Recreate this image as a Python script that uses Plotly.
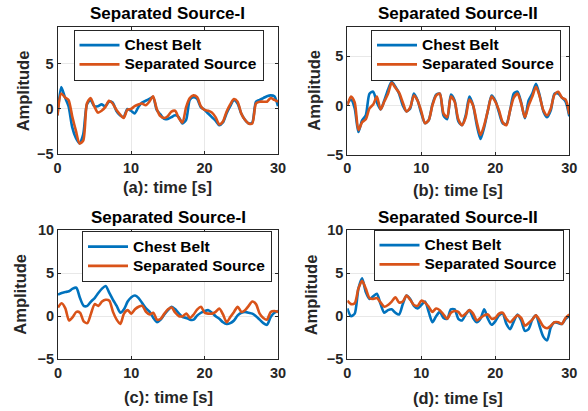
import plotly.graph_objects as go

# ---------------- data ----------------
time_s = [0.0, 0.5, 1.0, 1.5, 2.0, 2.5, 3.0, 3.5, 4.0, 4.5, 5.0, 5.5, 6.0, 6.5, 7.0, 7.5,
          8.0, 8.5, 9.0, 9.5, 10.0, 10.5, 11.0, 11.5, 12.0, 12.5, 13.0, 13.5, 14.0, 14.5,
          15.0, 15.5, 16.0, 16.5, 17.0, 17.5, 18.0, 18.5, 19.0, 19.5, 20.0, 20.5, 21.0,
          21.5, 22.0, 22.5, 23.0, 23.5, 24.0, 24.5, 25.0, 25.5, 26.0, 26.5, 27.0, 27.5,
          28.0, 28.5, 29.0, 29.5, 30.0]

a_belt = [-0.7, 2.4, 1.3, 0.3, -2.0, -3.2, -3.8, -2.8, 0.5, 1.0, 0.3, 0.3, 0.5, 0.3, 0.8, 0.7,
          -0.2, -0.7, -0.9, 0.0, -0.2, -0.5, 0.2, 0.7, 0.9, 1.1, 1.3, -0.1, -0.6, -1.1,
          -1.1, -0.9, -0.7, -0.9, -1.6, -1.2, 1.0, 1.3, 1.1, 0.2, -0.1, -0.5, -0.9,
          -1.3, -1.8, -1.5, -0.5, 0.3, 1.0, 0.6, -0.5, -1.2, -1.6, -1.5, 0.8, 1.0,
          1.2, 1.4, 1.5, 1.4, 0.3]
a_sep = [-0.7, 1.7, 1.3, 1.0, -0.8, -2.4, -3.8, -3.5, 0.6, 1.2, 0.3, -0.4, -0.2, 0.2, 0.9, 0.6,
         -0.1, -0.6, -1.0, -0.1, 0.0, 0.3, 0.5, 0.6, 0.4, 0.8, 1.4, 0.0, -0.8, -1.0,
         -0.8, -0.3, -0.2, -1.0, -1.5, 0.2, 1.2, 1.5, 1.3, 0.3, -0.1, -0.2, -0.4,
         -0.9, -1.7, -1.4, -0.3, 0.5, 1.1, 0.8, -0.5, -1.2, -1.6, -1.6, 0.6, 0.8,
         0.8, 0.8, 1.2, 1.0, 0.8]

b_belt = [0.2, 0.6, -0.3, -2.7, -1.5, -1.0, 1.2, 1.4, 0.3, -0.4, 0.5, 1.6, 2.4, 1.9, 1.2, 0.0,
          -0.6, -0.3, 1.2, 0.5, -0.8, -1.8, -1.5, 0.1, 1.1, 1.2, -1.0, -1.4, 1.1, 0.5,
          -1.6, -2.0, -1.0, 0.9, 0.0, -2.0, -3.4, -2.2, -0.5, 1.0, 0.5, -0.7, -1.8,
          -1.9, -0.5, 1.2, 1.4, 0.3, -1.3, 0.5, 1.2, 2.2, 1.0, -0.6, -1.2, -0.5,
          1.2, 1.2, 0.8, 0.4, -1.1]
b_sep = [0.0, 0.9, 0.3, -2.5, -1.7, -1.4, -0.3, 0.1, 0.9, -0.4, 0.4, 1.2, 2.3, 1.8, 1.3, 0.3,
         -0.6, -0.2, 1.0, 0.5, -0.6, -1.8, -1.5, 0.0, 1.0, 1.2, -0.8, -1.2, 0.9, 0.4,
         -1.4, -2.0, -1.2, 0.6, 0.0, -1.7, -3.0, -2.0, -0.5, 0.9, 0.4, -0.5, -1.7,
         -2.0, -0.5, 0.8, 1.2, 0.2, -1.2, 0.0, 0.9, 1.9, 0.9, -0.5, -1.0, -0.3,
         1.1, 1.4, 0.8, 0.6, -0.9]

c_belt = [2.5, 2.7, 2.8, 2.9, 3.2, 3.3, 2.1, 1.2, 1.2, 1.7, 2.1, 2.7, 3.2, 3.5, 2.7, 1.9,
          1.2, 0.4, 0.8, 1.7, 2.2, 2.4, 2.1, 1.5, 0.9, 0.5, -0.2, -0.7, -0.4, 0.2,
          0.7, 1.1, 0.8, 0.3, -0.1, -0.2, -0.4, -0.4, 0.1, 0.4, 0.6, 0.7, 0.4,
          0.0, -0.3, -0.7, -0.9, -0.8, -0.5, 0.1, 0.4, 0.5, 0.4, 0.3, 0.0, -0.4,
          -0.8, -1.0, -0.1, 0.4, 0.6]
c_sep = [1.0, 1.5, 0.9, -0.5, -0.1, 0.5, 0.4, -0.6, -0.8, 0.3, 1.4, 1.2, 1.7, 1.9, 1.8, 0.5,
         -0.4, -0.9, 0.3, 0.7, 0.3, 0.8, 1.1, 1.2, 0.5, 0.2, 0.4, -0.4, -0.3, 0.3,
         0.8, 1.0, 0.4, 0.0, 0.0, 0.3, -0.2, 0.2, 0.8, 1.1, 0.4, 0.3, 0.3,
         0.5, 0.9, 0.2, -0.7, -0.1, 0.5, 1.1, 0.5, 0.7, 1.2, 1.7, 1.4, 0.3,
         -0.2, -0.4, 0.5, 0.6, 0.5]

d_belt = [0.9, 0.0, 0.3, 3.2, 4.4, 2.8, 2.0, 2.3, 2.6, 1.4, 0.4, 0.7, 0.8, 0.4, 0.2, 1.4,
          2.4, 2.0, 1.2, 0.9, 1.3, 1.7, 0.5, -0.7, 0.0, 0.5, -0.2, -0.3, 0.8, 0.8,
          -0.3, -0.5, 0.2, 0.7, -0.2, -0.7, -0.3, 0.8, -0.3, -1.0, -0.6, 0.1, 0.3,
          -0.9, -1.5, -0.6, 0.2, -0.5, -1.7, -1.5, -0.4, 0.1, -1.2, -2.4, -2.8, -1.3,
          -0.7, -0.8, -0.9, -0.3, 0.0]
d_sep = [1.8, 1.4, 1.5, 3.2, 4.1, 3.2, 2.1, 2.0, 2.1, 1.6, 1.1, 1.3, 1.7, 2.2, 1.6, 1.7,
         2.4, 1.9, 1.3, 1.2, 1.8, 1.6, 1.1, 0.5, 0.9, 0.7, 0.2, -0.3, 0.4, 0.6,
         0.5, 0.0, 0.3, 0.7, 0.3, -0.5, -0.2, 0.1, 0.2, -0.3, -0.2, 0.3, 0.4,
         -0.3, -0.7, -0.3, 0.1, -0.2, -1.1, -0.8, -0.4, 0.1, -0.5, -1.2, -1.4, -1.1,
         -0.7, -0.7, -0.9, -0.2, 0.2]

panel_titles = ["Separated Source-I", "Separated Source-II", "Separated Source-I", "Separated Source-II"]
xlabels = ["(a): time [s]", "(b): time [s]", "(c): time [s]", "(d): time [s]"]
series_names = ["Chest Belt", "Separated Source"]
x_ticks = [0, 10, 20, 30]
y_ranges = [[-5, 9], [-5, 8], [-5, 10], [-5, 10]]
y_ticks = [[-5, 0, 5], [-5, 0, 5], [-5, 0, 5, 10], [-5, 0, 5, 10]]

# ---------------- layout geometry (pixels) ----------------
W, H = 588, 411
BLUE, ORANGE = "#0072BD", "#D95319"
FONT = "Liberation Sans, Arial, sans-serif"
DARK = "#262626"

# [x0, x1, ytop, ybottom] of each axes box in pixels
boxes = [[57.5, 278, 27.3, 154.3],
         [347.3, 569.3, 26.7, 154.7],
         [58, 278, 230, 359.3],
         [347.3, 569.3, 230, 359.3]]
legend_pos = [[73.5, 29.5], [371, 29.5], [82, 231], [373.5, 229.5]]
title_y = [14, 14, 217.5, 217.5]
xlabel_y = [187, 190, 397, 398]
ylabel_x = [22.5, 314, 20, 310.7]

data_pairs = [(a_belt, a_sep), (b_belt, b_sep), (c_belt, c_sep), (d_belt, d_sep)]

fig = go.Figure()
layout = dict(
    template="none",
    width=W, height=H,
    margin=dict(l=0, r=0, t=0, b=0, pad=0, autoexpand=False),
    paper_bgcolor="white", plot_bgcolor="white",
    font=dict(family=FONT, color=DARK),
    showlegend=True,
    annotations=[],
)

def px_x(x):
    return x / W

def px_y(y):
    return 1 - y / H

def legend_label(s):
    return f'<span style="font-size:15.5px">{s}</span>'

for i, (belt, sep) in enumerate(data_pairs):
    k = "" if i == 0 else str(i + 1)
    leg = "legend" if i == 0 else f"legend{i + 1}"
    x0, x1, yt, yb = boxes[i]
    fig.add_trace(go.Scatter(x=time_s, y=belt, mode="lines", name=legend_label(series_names[0]),
                             line=dict(color=BLUE, width=2.6, shape="spline", smoothing=0.7),
                             xaxis="x" + k, yaxis="y" + k, legend=leg))
    fig.add_trace(go.Scatter(x=time_s, y=sep, mode="lines", name=legend_label(series_names[1]),
                             line=dict(color=ORANGE, width=2.6, shape="spline", smoothing=0.7),
                             xaxis="x" + k, yaxis="y" + k, legend=leg))
    axis_common = dict(
        automargin=False,
        showline=True, linecolor=DARK, linewidth=1, mirror="ticks",
        ticks="inside", ticklen=3, tickcolor=DARK, tickwidth=1,
        showgrid=True, gridcolor="#E8E8E8", gridwidth=1, zeroline=False,
        tickfont=dict(family=FONT, size=14.5, color=DARK, weight="bold"),
    )
    layout["xaxis" + k] = dict(axis_common, domain=[px_x(x0), px_x(x1)], range=[0, 30],
                               tickvals=x_ticks, anchor="y" + k)
    layout["yaxis" + k] = dict(axis_common, domain=[px_y(yb), px_y(yt)], range=y_ranges[i],
                               tickvals=y_ticks[i], anchor="x" + k)
    lx, ly = legend_pos[i]
    layout[leg] = dict(x=px_x(lx), y=px_y(ly), xanchor="left", yanchor="top",
                       xref="paper", yref="paper",
                       bgcolor="white", bordercolor=DARK, borderwidth=1,
                       itemwidth=40, tracegroupgap=0,
                       font=dict(family=FONT, size=12.5, color="black", weight="bold"))
    cx = (x0 + x1) / 2
    layout["annotations"].append(dict(
        text=panel_titles[i], x=px_x(cx), y=px_y(title_y[i]), xref="paper", yref="paper",
        xanchor="center", yanchor="middle", showarrow=False,
        font=dict(family=FONT, size=17, color="black", weight="bold")))
    layout["annotations"].append(dict(
        text=xlabels[i], x=px_x(cx), y=px_y(xlabel_y[i]), xref="paper", yref="paper",
        xanchor="center", yanchor="middle", showarrow=False,
        font=dict(family=FONT, size=16.5, color=DARK, weight="bold")))
    layout["annotations"].append(dict(
        text="Amplitude", x=px_x(ylabel_x[i]), y=px_y((yt + yb) / 2), xref="paper", yref="paper",
        xanchor="center", yanchor="middle", showarrow=False, textangle=-90,
        font=dict(family=FONT, size=16.5, color=DARK, weight="bold")))

fig.update_layout(**layout)
fig.write_html("out.html")
